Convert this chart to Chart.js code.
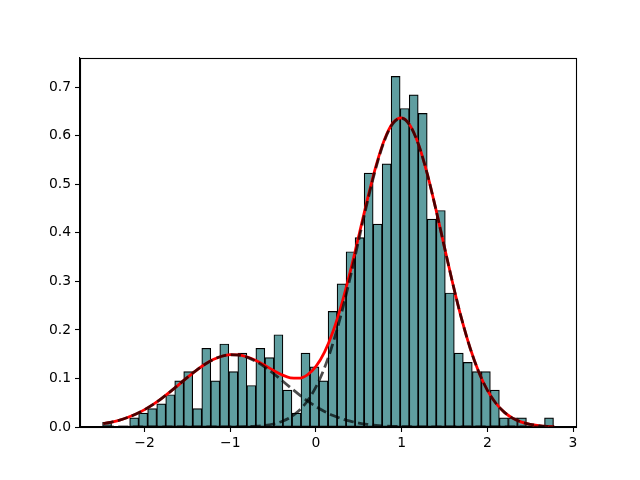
<!DOCTYPE html>
<html>
<head>
<meta charset="utf-8">
<script src="https://cdn.jsdelivr.net/npm/chart.js@4"></script>
<style>
  body { margin: 0; background: #fff; }
</style>
</head>
<body>
<canvas id="histChart" width="640" height="480"></canvas>
<script>
// HISTOGRAM (50 bins, density)
const binCenters = [
  -2.438, -2.333, -2.228, -2.122, -2.017, -1.912, -1.806, -1.701, -1.596, -1.491,
  -1.385, -1.280, -1.175, -1.070, -0.964, -0.859, -0.754, -0.649, -0.543, -0.438,
  -0.333, -0.227, -0.122, -0.017, 0.088, 0.194, 0.299, 0.404, 0.509, 0.615,
  0.720, 0.825, 0.930, 1.036, 1.141, 1.246, 1.351, 1.457, 1.562, 1.667,
  1.772, 1.878, 1.983, 2.088, 2.193, 2.299, 2.404, 2.509, 2.614, 2.720
];
const binDensity = [
  0.0095, 0, 0, 0.019, 0.0285, 0.038, 0.0475, 0.0665, 0.095, 0.114,
  0.038, 0.162, 0.095, 0.171, 0.114, 0.152, 0.0855, 0.162, 0.143, 0.19,
  0.076, 0.0285, 0.152, 0.124, 0.095, 0.238, 0.295, 0.361, 0.39, 0.523,
  0.418, 0.542, 0.722, 0.656, 0.684, 0.646, 0.428, 0.446, 0.276, 0.152,
  0.133, 0.114, 0.114, 0.076, 0.019, 0.019, 0.019, 0, 0, 0.019
];

// FITTED CURVES
const curveX = [
  -2.48, -2.4, -2.3, -2.2, -2.1, -2.0, -1.9, -1.8, -1.7, -1.6, -1.5, -1.4, -1.3, -1.2, -1.1,
  -1.0, -0.9, -0.8, -0.7, -0.6, -0.5, -0.4, -0.3, -0.2, -0.1, 0.0, 0.1, 0.2, 0.3, 0.4,
  0.5, 0.6, 0.7, 0.8, 0.9, 1.0, 1.1, 1.2, 1.3, 1.4, 1.5, 1.6, 1.7, 1.8, 1.9,
  2.0, 2.1, 2.2, 2.3, 2.4, 2.5, 2.6, 2.7, 2.78
];
const totalFit = [
  0.0070, 0.0096, 0.0138, 0.0195, 0.0268, 0.0358, 0.0466, 0.0590, 0.0728, 0.0874, 0.1022, 0.1162, 0.1287, 0.1388, 0.1457,
  0.1490, 0.1484, 0.1441, 0.1368, 0.1273, 0.1169, 0.1077, 0.1014, 0.1005, 0.1075, 0.1247, 0.1542, 0.1971, 0.2531, 0.3201,
  0.3939, 0.4687, 0.5374, 0.5922, 0.6268, 0.6367, 0.6207, 0.5805, 0.5207, 0.4481, 0.3700, 0.2931, 0.2226, 0.1622, 0.1134,
  0.0760, 0.0489, 0.0302, 0.0178, 0.0101, 0.0055, 0.0029, 0.0014, 0.0008
];
const leftComp = [
  0.0070, 0.0096, 0.0138, 0.0195, 0.0268, 0.0358, 0.0466, 0.0590, 0.0728, 0.0874, 0.1022, 0.1162, 0.1287, 0.1388, 0.1457,
  0.1488, 0.1480, 0.1433, 0.1351, 0.1240, 0.1107, 0.0963, 0.0815, 0.0672, 0.0539, 0.0421, 0.0320, 0.0237, 0.0171, 0.0120,
  0.0082, 0.0054, 0.0035, 0.0022, 0.0014, 0.0008, 0.0005, 0.0003, 0.0001, 0, 0, 0, 0, 0, 0,
  0, 0, 0, 0, 0, 0, 0, 0, 0
];
const rightComp = [
  0, 0, 0, 0, 0, 0, 0, 0, 0, 0, 0, 0, 0, 0, 0,
  0.0002, 0.0004, 0.0008, 0.0017, 0.0033, 0.0062, 0.0114, 0.0199, 0.0333, 0.0536, 0.0826, 0.1222, 0.1734, 0.2360, 0.3081,
  0.3857, 0.4633, 0.5339, 0.5900, 0.6254, 0.6359, 0.6202, 0.5802, 0.5206, 0.4481, 0.3700, 0.2931, 0.2226, 0.1622, 0.1134,
  0.0760, 0.0489, 0.0302, 0.0178, 0.0101, 0.0055, 0.0029, 0.0014, 0.0008
];

const xTicks = [-2, -1, 0, 1, 2, 3];
const yTicks = [0.0, 0.1, 0.2, 0.3, 0.4, 0.5, 0.6, 0.7];

const pts = (xs, ys) => xs.map((x, i) => ({ x, y: ys[i] }));

// frame on all four sides, like matplotlib
const framePlugin = {
  id: "frame",
  afterDraw(chart) {
    const { ctx, chartArea: a } = chart;
    ctx.save();
    ctx.strokeStyle = "#000";
    ctx.lineWidth = 1.1;
    ctx.strokeRect(Math.round(a.left) + 0.5, Math.round(a.top) + 0.5,
      Math.round(a.right - a.left), Math.round(a.bottom - a.top));
    ctx.restore();
  }
};

const tickFont = { family: "DejaVu Sans", size: 13.9 };
const dashed = {
  type: "line",
  borderColor: "rgba(0,0,0,0.7)",
  borderWidth: 2.78,
  borderDash: [10.3, 4.4],
  pointRadius: 0,
  cubicInterpolationMode: "monotone",
  order: 1
};

new Chart(document.getElementById("histChart"), {
  type: "bar",
  data: {
    datasets: [
      { ...dashed, data: pts(curveX, leftComp) },
      { ...dashed, data: pts(curveX, rightComp) },
      {
        type: "line",
        data: pts(curveX, totalFit),
        borderColor: "#ff0000",
        borderWidth: 2.78,
        pointRadius: 0,
        cubicInterpolationMode: "monotone",
        order: 2
      },
      {
        type: "bar",
        data: pts(binCenters, binDensity),
        backgroundColor: "#5f9ea0",
        borderColor: "#000",
        borderWidth: 1.2,
        borderSkipped: false,
        barPercentage: 1,
        categoryPercentage: 1,
        order: 3
      }
    ]
  },
  options: {
    responsive: false,
    animation: false,
    layout: { padding: { top: 58, right: 64, left: 0, bottom: 0 } },
    plugins: { legend: { display: false }, tooltip: { enabled: false } },
    scales: {
      x: {
        type: "linear",
        offset: false,
        min: -2.754,
        max: 3.035,
        afterBuildTicks: s => { s.ticks = xTicks.map(v => ({ value: v })); },
        afterFit: s => { s.height = 53; },
        ticks: { color: "#000", font: tickFont, padding: 3, maxRotation: 0,
          callback: v => (v < 0 ? "\u2212" + Math.abs(v) : String(v)) },
        grid: { offset: false, drawOnChartArea: false, tickLength: 5, tickWidth: 1.1, color: "#000" },
        border: { color: "#000", width: 1.1 }
      },
      y: {
        min: 0,
        max: 0.76,
        afterBuildTicks: s => { s.ticks = yTicks.map(v => ({ value: v })); },
        afterFit: s => { s.width = 80; },
        ticks: { color: "#000", font: tickFont, padding: 4,
          callback: v => v.toFixed(1) },
        grid: { drawOnChartArea: false, tickLength: 5, tickWidth: 1.1, color: "#000" },
        border: { color: "#000", width: 1.1 }
      }
    }
  },
  plugins: [framePlugin]
});
</script>
</body>
</html>
